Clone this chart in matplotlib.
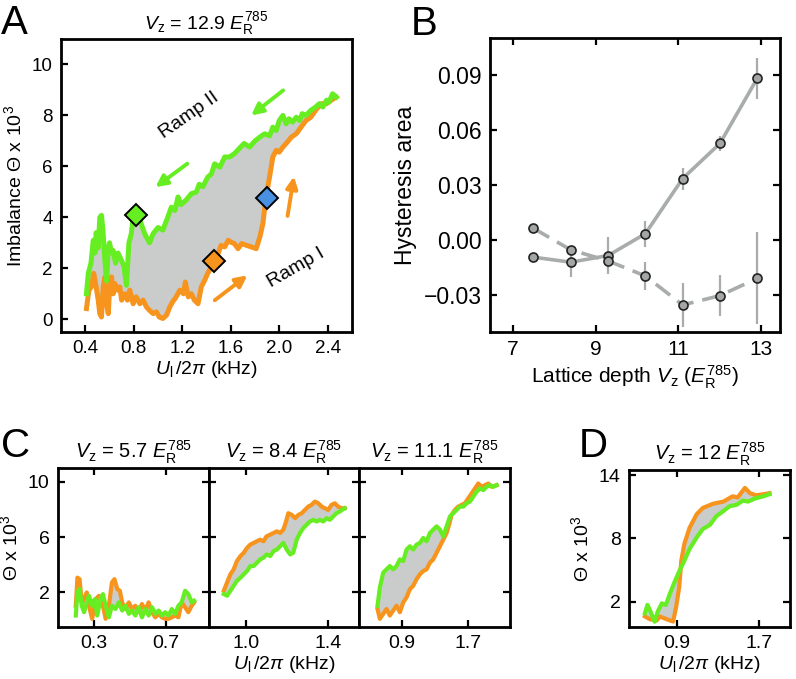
import matplotlib.pyplot as plt
import numpy as np

plt.rcParams['font.family'] = ['Liberation Sans', 'DejaVu Sans']
plt.rcParams['mathtext.fontset'] = 'custom'
plt.rcParams['mathtext.rm'] = 'Liberation Sans'
plt.rcParams['mathtext.it'] = 'Liberation Sans:italic'
plt.rcParams['mathtext.bf'] = 'Liberation Sans:bold'

ORANGE = '#f7941d'
GREEN = '#66ee22'
GRAY = '#c9cccb'
LINE_B = '#a8adab'

# ---- panel A: ramp I (orange) and ramp II (green), Vz = 12.9
a_or_x = [0.41, 0.43, 0.45, 0.47, 0.49, 0.507, 0.52, 0.534, 0.548, 0.562, 0.576, 0.59, 0.60, 0.617,
          0.63, 0.644, 0.666, 0.685, 0.70, 0.726, 0.748, 0.767, 0.795, 0.82, 0.85, 0.877, 0.905, 0.93,
          0.96, 0.987, 1.01, 1.04, 1.07, 1.097, 1.12, 1.15, 1.18, 1.21, 1.225, 1.25, 1.275, 1.30, 1.33,
          1.357, 1.385, 1.41, 1.44, 1.46, 1.495, 1.52, 1.55, 1.58, 1.60, 1.63, 1.66, 1.69, 1.73, 1.77,
          1.81, 1.84, 1.865, 1.89, 1.92, 1.947, 1.975, 2.0, 2.03, 2.057, 2.10, 2.14, 2.18, 2.22, 2.26,
          2.30, 2.345, 2.39, 2.43, 2.47]
a_or_y = [0.42, 1.14, 1.27, 1.8, 1.27, 0.75, 0.22, 0.09, 1.27, 1.66, 0.61, 0.22, 1.14, 1.66,
          1.0, 1.4, 1.14, 1.27, 0.75, 1.0, 0.75, 1.14, 0.61, 0.88, 0.61, 0.75, 0.48, 0.35,
          0.22, 0.29, 0.09, 0.03, 0.16, 0.48, 0.68, 0.88, 1.14, 1.0, 1.46, 0.88, 1.0, 0.75, 0.61,
          1.27, 1.53, 1.8, 2.05, 2.3, 2.57, 2.9, 2.84, 3.1, 3.03, 2.97, 2.77, 2.97, 2.9, 2.84,
          2.77, 3.23, 3.75, 4.8, 5.58, 6.37, 6.63, 6.56, 6.76, 6.9, 7.15, 7.28, 7.54, 7.8, 7.93,
          8.2, 8.46, 8.46, 8.6, 8.72]
a_gr_x = [0.41, 0.425, 0.447, 0.466, 0.48, 0.49, 0.507, 0.52, 0.534, 0.548, 0.562, 0.576, 0.59, 0.60,
          0.617, 0.63, 0.65, 0.67, 0.70, 0.72, 0.74, 0.76, 0.78, 0.795, 0.82, 0.85, 0.89, 0.93, 0.96,
          1.0, 1.04, 1.08, 1.11, 1.14, 1.165, 1.19, 1.23, 1.275, 1.316, 1.34, 1.37, 1.41, 1.44, 1.467,
          1.51, 1.55, 1.59, 1.63, 1.67, 1.71, 1.755, 1.80, 1.84, 1.88, 1.92, 1.947, 1.975, 2.0, 2.03,
          2.057, 2.08, 2.11, 2.14, 2.167, 2.19, 2.22, 2.26, 2.30, 2.33, 2.36, 2.39, 2.41, 2.44, 2.47]
a_gr_y = [1.0, 1.8, 2.2, 3.1, 2.6, 3.4, 2.8, 4.0, 4.08, 3.36, 2.3, 1.5, 2.8, 3.0,
          2.6, 2.7, 2.2, 2.6, 2.3, 2.05, 1.33, 3.0, 3.36, 4.0, 4.14, 3.9, 3.36, 3.0, 3.36,
          3.6, 3.5, 4.0, 4.4, 4.27, 4.8, 4.5, 4.67, 4.93, 4.99, 5.3, 5.2, 5.58, 5.7, 6.1,
          5.97, 6.37, 6.37, 6.5, 6.7, 6.9, 6.76, 7.0, 7.15, 7.28, 7.2, 7.54, 7.41, 7.8, 8.0,
          7.67, 7.87, 7.74, 7.93, 7.8, 8.07, 8.0, 8.2, 8.33, 8.46, 8.33, 8.6, 8.52, 8.85, 8.72]
a_diamond_x = [0.82, 1.46, 1.90]
a_diamond_y = [4.1, 2.3, 4.75]
a_diamond_c = [GREEN, ORANGE, '#4a90e2']
a_xticks = [0.4, 0.8, 1.2, 1.6, 2.0, 2.4]
a_xticklabels = ['0.4', '0.8', '1.2', '1.6', '2.0', '2.4']
a_yticks = [0, 2, 4, 6, 8, 10]

# ---- panel B: hysteresis area vs lattice depth
b_vz = [7.5, 8.4, 9.3, 10.2, 11.1, 12.0, 12.9]
b_solid = [-0.0093, -0.012, -0.0084, 0.0035, 0.0335, 0.0526, 0.088]
b_solid_err = [0.0, 0.008, 0.010, 0.007, 0.006, 0.004, 0.011]
b_dash = [0.0064, -0.0053, -0.0113, -0.0195, -0.0353, -0.0302, -0.0208]
b_dash_err = [0.0, 0.0, 0.004, 0.0075, 0.012, 0.011, 0.025]
b_xticks = [7, 9, 11, 13]
b_yticks = [-0.03, 0.0, 0.03, 0.06, 0.09]
b_yticklabels = ['\u22120.03', '0.00', '0.03', '0.06', '0.09']

# ---- panel C: three lattice depths
c_titles = ['5.7', '8.4', '11.1']
c1_or_x = [0.199, 0.208, 0.22, 0.232, 0.245, 0.26, 0.272, 0.29, 0.31, 0.328, 0.346, 0.365, 0.383, 0.40,
           0.414, 0.43, 0.444, 0.457, 0.475, 0.494, 0.512, 0.53, 0.549, 0.567, 0.586, 0.604, 0.623,
           0.641, 0.66, 0.678, 0.696, 0.715, 0.733, 0.752, 0.77, 0.788, 0.807, 0.825, 0.844, 0.857]
c1_or_y = [1.04, 3.07, 2.96, 1.28, 1.52, 2.0, 1.04, 0.09, 1.52, 1.76, 1.28, 0.09, 1.04, 2.72,
           2.96, 2.24, 2.12, 1.28, 0.8, 1.28, 0.8, 1.04, 0.57, 1.16, 0.69, 1.28, 0.57,
           0.2, 0.45, 0.2, 0.09, 0.09, 0.2, 0.33, 0.2, 1.28, 0.93, 0.57, 1.04, 1.28]
c1_gr_x = [0.199, 0.208, 0.22, 0.232, 0.245, 0.26, 0.272, 0.29, 0.305, 0.318, 0.337, 0.35, 0.365, 0.383,
           0.40, 0.42, 0.438, 0.457, 0.475, 0.494, 0.512, 0.53, 0.549, 0.567, 0.586, 0.604, 0.623,
           0.641, 0.66, 0.678, 0.696, 0.715, 0.733, 0.752, 0.77, 0.788, 0.807, 0.825, 0.844, 0.857]
c1_gr_y = [0.33, 2.0, 2.24, 1.04, 0.57, 1.28, 1.76, 1.04, 1.52, 0.33, 1.52, 1.88, 1.04, 0.2,
           1.04, 0.8, 1.28, 0.69, 1.04, 0.45, 0.69, 0.33, 0.93, 0.2, 0.8, 0.33, 0.93,
           0.45, 0.69, 0.33, 0.57, 0.33, 0.8, 0.45, 1.04, 1.28, 2.12, 1.88, 1.28, 1.4]
c2_or_x = [0.892, 0.908, 0.924, 0.94, 0.956, 0.973, 0.989, 1.005, 1.021, 1.037, 1.053, 1.069, 1.085,
           1.10, 1.118, 1.134, 1.15, 1.166, 1.182, 1.195, 1.206, 1.223, 1.239, 1.255, 1.271, 1.287,
           1.303, 1.319, 1.335, 1.352, 1.368, 1.384, 1.40, 1.416, 1.432, 1.448, 1.465, 1.48]
c2_or_y = [2.12, 2.72, 3.31, 3.67, 4.27, 4.63, 4.87, 5.22, 5.46, 5.58, 5.7, 5.82, 5.7,
           6.06, 6.18, 6.3, 6.42, 6.3, 6.54, 7.13, 7.73, 7.61, 7.37, 7.61, 7.73, 7.97,
           8.21, 8.33, 8.57, 8.45, 8.21, 8.09, 7.97, 8.33, 8.45, 8.21, 8.09, 8.09]
c2_gr_x = [0.892, 0.908, 0.924, 0.94, 0.956, 0.973, 0.989, 1.005, 1.021, 1.037, 1.053, 1.069, 1.085,
           1.10, 1.118, 1.134, 1.15, 1.166, 1.182, 1.198, 1.215, 1.23, 1.247, 1.263, 1.279, 1.295,
           1.311, 1.327, 1.344, 1.36, 1.376, 1.392, 1.408, 1.424, 1.44, 1.456, 1.48]
c2_gr_y = [1.88, 1.76, 2.12, 2.48, 2.84, 3.07, 3.31, 3.55, 3.91, 3.91, 4.15, 4.39, 4.51,
           4.75, 4.63, 4.99, 5.1, 5.34, 5.58, 5.1, 4.75, 4.87, 5.82, 6.3, 6.66, 6.9,
           7.13, 7.25, 7.13, 7.25, 7.13, 7.37, 7.25, 7.49, 7.73, 7.85, 8.09]
c3_or_x = [0.612, 0.64, 0.68, 0.72, 0.76, 0.80, 0.84, 0.88, 0.92, 0.96, 1.0, 1.04, 1.08, 1.12, 1.16,
           1.20, 1.24, 1.28, 1.32, 1.36, 1.40, 1.44, 1.47, 1.50, 1.54, 1.58, 1.62, 1.66, 1.70, 1.74,
           1.78, 1.82, 1.86, 1.90, 1.94, 1.98, 2.04]
c3_or_y = [0.8, 0.09, 0.45, 0.8, 0.33, 0.69, 1.04, 0.57, 1.28, 1.64, 2.24, 2.48, 2.96, 3.31, 3.55,
           3.67, 4.15, 4.39, 4.87, 5.34, 5.82, 6.3, 6.9, 7.61, 7.97, 8.21, 8.33, 8.45, 8.81, 9.16,
           9.52, 9.88, 9.64, 9.76, 9.88, 9.64, 9.76]
c3_gr_x = [0.612, 0.64, 0.68, 0.72, 0.76, 0.80, 0.84, 0.88, 0.92, 0.96, 1.0, 1.04, 1.08, 1.12, 1.16,
           1.20, 1.24, 1.28, 1.32, 1.36, 1.40, 1.44, 1.48, 1.52, 1.56, 1.60, 1.64, 1.68, 1.72, 1.76,
           1.80, 1.84, 1.88, 1.92, 1.96, 2.0, 2.04]
c3_gr_y = [1.04, 2.36, 3.43, 3.67, 3.91, 3.67, 3.91, 4.39, 4.27, 5.1, 5.34, 5.1, 5.46, 5.58, 5.94,
           5.7, 6.3, 6.54, 6.78, 6.54, 6.06, 6.78, 7.49, 7.73, 7.97, 8.21, 8.21, 8.45, 8.57, 8.93,
           9.28, 9.52, 9.4, 9.64, 9.76, 9.64, 9.76]

# ---- panel D: Vz = 12
d_or_x = [0.585, 0.633, 0.70, 0.73, 0.796, 0.86, 0.89, 0.92, 0.94, 0.97, 1.02, 1.09, 1.15, 1.25,
          1.35, 1.44, 1.49, 1.56, 1.61, 1.67, 1.74, 1.80]
d_or_y = [0.6, 0.34, 0.22, 0.6, 0.34, 0.12, 1.53, 3.4, 5.9, 7.5, 9.0, 10.3, 10.9, 11.3,
          11.5, 12.0, 11.9, 12.8, 12.3, 12.1, 12.2, 12.3]
d_gr_x = [0.585, 0.61, 0.64, 0.68, 0.71, 0.75, 0.79, 0.83, 0.88, 0.925, 0.97, 1.02, 1.09, 1.15,
          1.22, 1.28, 1.35, 1.41, 1.48, 1.54, 1.59, 1.66, 1.74, 1.80]
d_gr_y = [0.9, 1.7, 1.06, 0.1, 1.06, 1.84, 1.7, 2.8, 4.0, 5.0, 5.9, 7.0, 8.1, 8.9,
          9.3, 10.1, 10.6, 11.06, 11.2, 11.6, 11.5, 11.8, 12.0, 12.2]

W, H = 796, 679
fig = plt.figure(figsize=(W / 100, H / 100), dpi=100)


def box(l, r, t, b):
    return [l / W, 1 - b / H, (r - l) / W, (b - t) / H]


def style(ax, allsides=True, size=13.5):
    for s in ax.spines.values():
        s.set_linewidth(2.0)
    ax.tick_params(direction='in', length=5, width=1.6, labelsize=size,
                   top=allsides, right=allsides, pad=6)


def loop(ax, xo, yo, xg, yg, lw):
    ax.fill(np.concatenate([xo, xg[::-1]]), np.concatenate([yo, yg[::-1]]),
            color=GRAY, lw=0, zorder=1)
    ax.plot(xo, yo, color=ORANGE, lw=lw, zorder=2, solid_joinstyle='round')
    ax.plot(xg, yg, color=GREEN, lw=lw, zorder=3, solid_joinstyle='round')


def vz_title(val):
    return r'$V_\mathrm{z}$ = ' + val + r' $E_\mathrm{R}^{785}$'


ulabel = r'$U_\mathrm{l}\,/2\pi$ (kHz)'

# panel A
axA = fig.add_axes(box(61, 352, 39, 332))
style(axA, allsides=False)
loop(axA, np.array(a_or_x), np.array(a_or_y), np.array(a_gr_x), np.array(a_gr_y), 3.6)
for x, y, c in zip(a_diamond_x, a_diamond_y, a_diamond_c):
    axA.plot(x, y, 'D', ms=11, mfc=c, mec='black', mew=1.4, zorder=5)
arr = dict(arrowstyle='-|>', lw=2.8, mutation_scale=17)
axA.annotate('', xy=(1.75, 7.93), xytext=(2.05, 9.05), arrowprops=dict(arr, color=GREEN))
axA.annotate('', xy=(0.96, 5.12), xytext=(1.26, 6.17), arrowprops=dict(arr, color=GREEN))
axA.annotate('', xy=(1.755, 1.79), xytext=(1.45, 0.68), arrowprops=dict(arr, color=ORANGE))
axA.annotate('', xy=(2.125, 5.71), xytext=(2.065, 3.95), arrowprops=dict(arr, color=ORANGE))
axA.text(1.26, 8.0, 'Ramp II', rotation=35, ha='center', va='center', fontsize=14)
axA.text(2.14, 2.0, 'Ramp I', rotation=30, ha='center', va='center', fontsize=14)
axA.set_xlim(0.2, 2.6)
axA.set_ylim(-0.5, 11)
axA.set_xticks(a_xticks, a_xticklabels)
axA.set_yticks(a_yticks)
axA.set_xlabel(ulabel, fontsize=14, labelpad=1)
axA.set_ylabel(r'Imbalance Θ x 10$^3$', fontsize=14, labelpad=5)
axA.set_title(vz_title('12.9'), fontsize=14, pad=7)

# panel B
axB = fig.add_axes(box(490, 780, 38, 332))
style(axB, size=15)
axB.errorbar(b_vz, b_solid, yerr=b_solid_err, color=LINE_B, lw=2.6, elinewidth=1.6,
             marker='o', ms=6.5, mfc='#a3a6a5', mec='#222222', mew=1.2, zorder=3)
axB.errorbar(b_vz, b_dash, yerr=b_dash_err, color=LINE_B, lw=2.6, elinewidth=1.6, ls='--',
             dashes=(5, 2.5), marker='o', ms=6.5, mfc='#a3a6a5', mec='#222222', mew=1.2,
             zorder=3)
axB.set_xlim(6.45, 13.45)
axB.set_ylim(-0.05, 0.11)
axB.set_xticks(b_xticks)
axB.set_yticks(b_yticks, b_yticklabels)
axB.tick_params(axis='y', labelsize=16.5)
axB.set_xlabel(r'Lattice depth $V_\mathrm{z}$ ($E_\mathrm{R}^{785}$)', fontsize=15, labelpad=3)
axB.set_ylabel('Hysteresis area', fontsize=16.5, labelpad=5)

# panel C
c_boxes = [(58, 209), (209, 359), (359, 510)]
c_data = [(c1_or_x, c1_or_y, c1_gr_x, c1_gr_y),
          (c2_or_x, c2_or_y, c2_gr_x, c2_gr_y),
          (c3_or_x, c3_or_y, c3_gr_x, c3_gr_y)]
c_xlims = [(0.1, 0.94), (0.82, 1.55), (0.39, 2.2)]
c_xticks = [([0.3, 0.7], ['0.3', '0.7']), ([1.0, 1.4], ['1.0', '1.4']), ([0.9, 1.7], ['0.9', '1.7'])]
axC = []
for i in range(3):
    ax = fig.add_axes(box(c_boxes[i][0], c_boxes[i][1], 468, 627))
    style(ax, size=14)
    xo, yo, xg, yg = [np.array(v) for v in c_data[i]]
    loop(ax, xo, yo, xg, yg, 3.0)
    ax.set_xlim(*c_xlims[i])
    ax.set_ylim(-0.5, 11)
    ax.set_xticks(*c_xticks[i])
    ax.set_yticks([2, 6, 10])
    if i > 0:
        ax.tick_params(labelleft=False)
    ax.set_title(vz_title(c_titles[i]), fontsize=14.5, pad=7)
    axC.append(ax)
axC[0].set_ylabel(r'Θ x 10$^3$', fontsize=14, labelpad=5)
axC[1].set_xlabel(ulabel, fontsize=14, labelpad=1)

# panel D
axD = fig.add_axes(box(629, 790, 470, 627))
style(axD, size=14)
loop(axD, np.array(d_or_x), np.array(d_or_y), np.array(d_gr_x), np.array(d_gr_y), 3.0)
axD.set_xlim(0.43, 2.0)
axD.set_ylim(-0.4, 14.5)
axD.set_xticks([0.9, 1.7], ['0.9', '1.7'])
axD.set_yticks([2, 8, 14])
axD.set_xlabel(ulabel, fontsize=14, labelpad=1)
axD.set_ylabel(r'Θ x 10$^3$', fontsize=14, labelpad=5)
axD.set_title(vz_title('12'), fontsize=14.5, pad=7)

# panel letters
for lbl, x, y in [('A', 1, 34), ('B', 411, 35), ('C', 1, 457), ('D', 579, 457)]:
    fig.text(x / W, 1 - y / H, lbl, fontsize=29)

fig.savefig('out.png', dpi=100)
